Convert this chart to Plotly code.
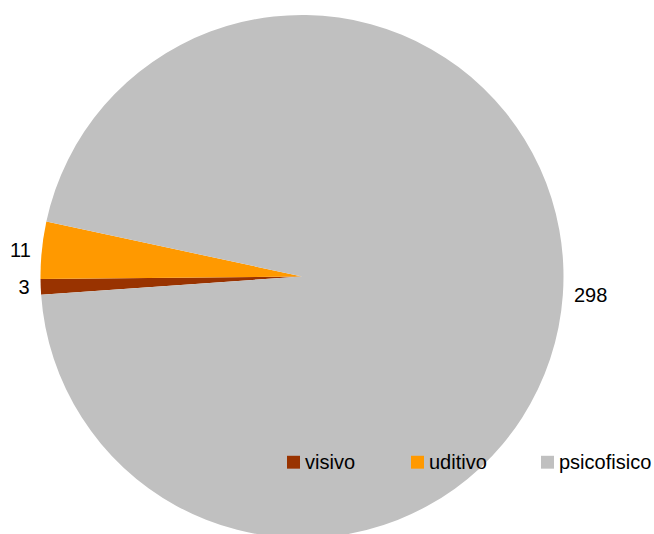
import plotly.graph_objects as go

categories = ["visivo", "uditivo", "psicofisico"]
values = [3, 11, 298]
colors = ["#993300", "#FF9900", "#C0C0C0"]

FONT = "Liberation Sans, Arial, sans-serif"
# figure is slightly taller than the 534px window; the bottom of the pie is cut off as in the reference
W, H = 654, 543
ML, MR, MT, MB = 38, 88, 15, 0
PW, PH = W - ML - MR, H - MT - MB


def px_x(x):
    return (x - ML) / PW


def px_y(y):
    return (H - MB - y) / PH


fig = go.Figure(go.Pie(
    labels=categories,
    values=values,
    sort=False,
    direction="clockwise",
    rotation=266,
    marker=dict(colors=colors, line=dict(width=0)),
    textinfo="value",
    texttemplate=["%{value}\u00a0", "%{value}\u00a0", "\u00a0%{value}"],
    textposition="outside",
    outsidetextfont=dict(family=FONT, size=20, color="#000000"),
    hoverinfo="label+value+percent",
    showlegend=False,
))

# legend drawn as squares + labels (positions in screen pixels)
legend_x = [287, 411, 541]
legend_y = 466
sq = 13
for name, col, lx in zip(categories, colors, legend_x):
    fig.add_shape(
        type="rect", xref="paper", yref="paper",
        x0=px_x(lx), x1=px_x(lx + sq),
        y0=px_y(legend_y + sq / 2 + 0.5), y1=px_y(legend_y - sq / 2 + 0.5),
        fillcolor=col, line=dict(width=0), layer="above",
    )
    fig.add_annotation(
        xref="paper", yref="paper",
        x=px_x(lx + sq + 3), y=px_y(legend_y),
        xanchor="left", yanchor="middle",
        text=name, showarrow=False,
        font=dict(family=FONT, size=20, color="#000000"),
    )

fig.update_layout(
    width=W,
    height=H,
    margin=dict(l=ML, r=MR, t=MT, b=MB),
    paper_bgcolor="white",
    showlegend=False,
)

fig.write_html(
    "out.html",
    config={"displayModeBar": False},
    post_script="document.body.style.margin='0';document.documentElement.style.overflow='hidden';",
)
